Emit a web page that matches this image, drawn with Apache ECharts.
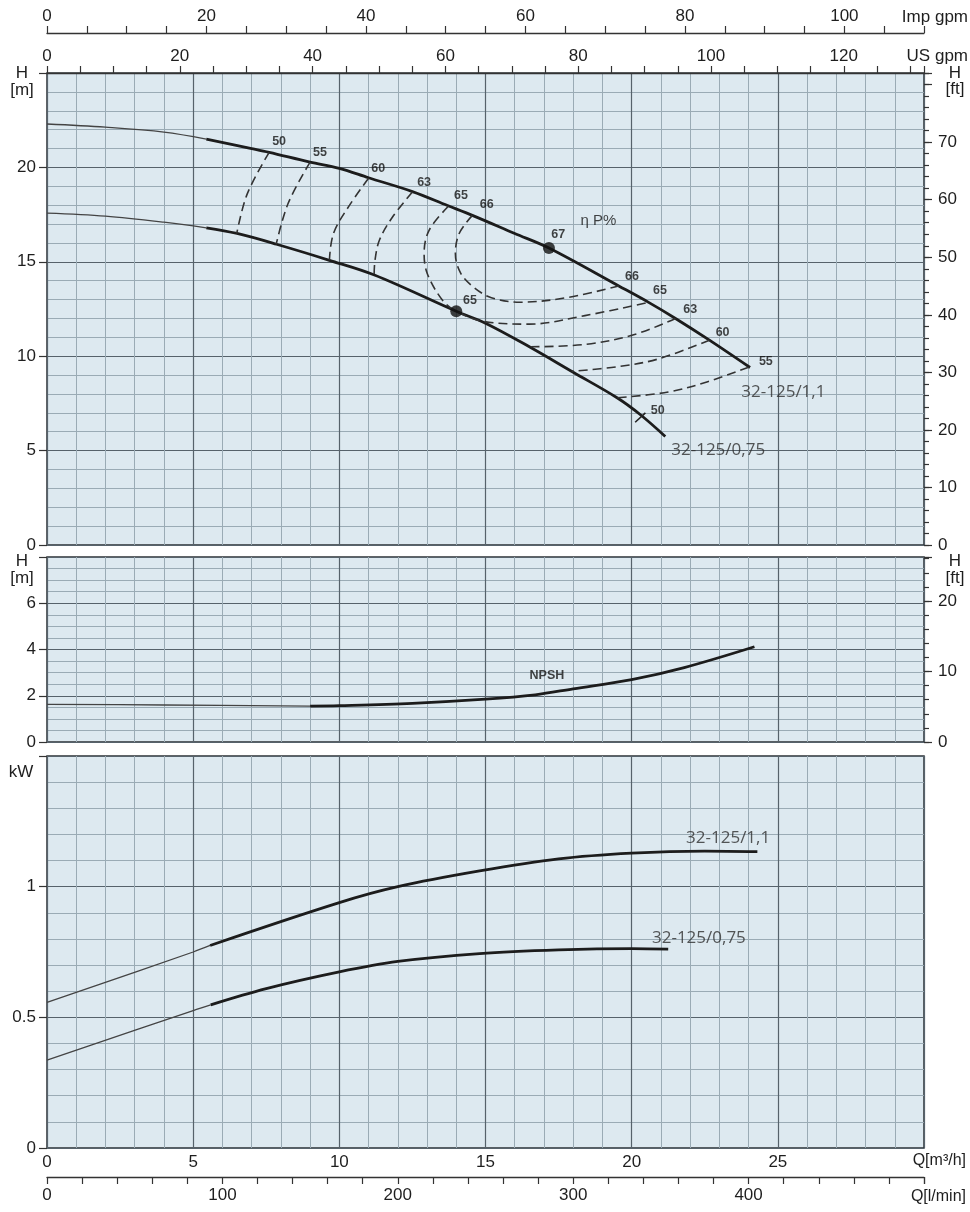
<!DOCTYPE html>
<html><head><meta charset="utf-8">
<script src="https://cdn.jsdelivr.net/npm/echarts/dist/echarts.min.js"></script>
<style>html,body{margin:0;padding:0;background:#fff}#c{width:970px;height:1212px}</style>
</head><body><div id="c"></div>
<script>
// ---------- DATA (Q in m3/h) ----------
const h11Thin = [[0,22.3],[2,22.13],[4,21.87],[5.45,21.5]];
const h11Thick = [[5.45,21.5],[7,21.0],[7.6,20.8],[9,20.28],[10,19.95],[11,19.45],[12.5,18.72],[13.7,17.98],[14.55,17.46],[16,16.5],[17.17,15.73],[19.56,13.72],[20.58,12.85],[21.5,12.0],[22.66,10.85],[24.05,9.4]];
const h075Thin = [[0,17.58],[2,17.42],[4,17.1],[5.45,16.8]];
const h075Thick = [[5.45,16.8],[6.5,16.5],[7.85,15.93],[9.66,15.08],[11.2,14.3],[14.0,12.38],[15,11.75],[16.5,10.5],[18,9.15],[19.5,7.8],[20.3,6.9],[21.15,5.75]];
const bep = [[17.17,15.73],[14.0,12.38]];

const eff50 = [[7.6,20.8],[6.85,18.6],[6.49,16.5]];
const eff55 = [[9.0,20.28],[8.25,18.1],[7.84,15.93]];
const eff60 = [[11.0,19.42],[10.35,18.0],[9.8,16.5],[9.66,15.08]];
const eff63 = [[12.5,18.7],[11.82,17.37],[11.37,16.14],[11.22,15.08],[11.19,14.29]];
const eff65 = [[13.73,17.94],[13.07,16.67],[12.9,15.43],[13.01,14.37],[13.53,12.96],[14.0,12.38],[14.9,11.85],[16.5,11.7],[18.4,12.15],[20.58,12.85]];
const eff66 = [[14.55,17.46],[14.1,16.5],[13.97,15.43],[14.15,14.4],[14.6,13.65],[15.2,13.1],[16.2,12.86],[17.85,13.12],[19.56,13.72]];
const eff63b = [[21.5,12.0],[20.1,11.15],[18.4,10.62],[16.5,10.5]];
const eff60b = [[22.66,10.85],[20.9,9.85],[19.55,9.45],[17.95,9.2]];
const eff55b = [[24.0,9.42],[22.6,8.65],[21.25,8.1],[19.5,7.8]];
const eff50tick = [[20.12,6.5],[20.47,7.0]];

const effLabels = [[7.94,21.36,'50'],[9.34,20.8,'55'],[11.33,19.95,'60'],[12.9,19.19,'63'],[14.16,18.49,'65'],[15.04,18.01,'66'],
  [17.49,16.46,'67'],[20.01,14.21,'66'],[20.97,13.47,'65'],[22.0,12.48,'63'],[23.11,11.24,'60'],[24.59,9.71,'55'],
  [14.47,12.94,'65'],[20.89,7.1,'50']];
const headNames = [[18.86,17.18,'η P%'],[25.19,8.12,'32-125/1,1'],[22.96,5.0,'32-125/0,75']];

const npshThin = [[0,1.63],[4,1.6],[9,1.55]];
const npshThick = [[9,1.55],[10,1.57],[12.5,1.67],[15,1.85],[16.7,2.04],[18,2.3],[20,2.7],[21.8,3.22],[24.2,4.12]];
const npshLabel = [[17.1,2.89,'NPSH']];

const p11Thin = [[0,0.557],[5,0.75],[5.58,0.775]];
const p11Thick = [[5.58,0.775],[10,0.939],[12,1.0],[14.8,1.06],[17.5,1.106],[20,1.128],[22.5,1.136],[24.3,1.134]];
const p075Thin = [[0,0.336],[5,0.526],[5.6,0.548]];
const p075Thick = [[5.6,0.548],[7.5,0.61],[10,0.674],[12,0.714],[14.8,0.744],[17.5,0.758],[20,0.763],[21.25,0.761]];
const powerNames = [[23.3,1.186,'32-125/1,1'],[22.3,0.804,'32-125/0,75']];

// axis ranges / conversion
const qMax = 30;
const usGpmPerM3h = 4.40287, impGpmPerM3h = 3.66615, lminPerM3h = 1000/60, ftPerM = 3.28084;

// ---------- STYLE ----------
const FONT = 'Liberation Sans, Arial, sans-serif';
const MAJOR = '#56626b', MINOR = '#9aabb5', BG = '#dde9f0', INK = '#1c1c1c';
const axLbl = (extra) => Object.assign({fontSize:17, color:'#1e1e1e', fontFamily:FONT}, extra||{});

function qAxis(gi, labels){
  return {type:'value', gridIndex:gi, min:0, max:qMax, interval:5, position:'bottom',
    axisLine:{show:false, onZero:false}, axisTick:{show:false},
    axisLabel: axLbl({show:labels, margin:6, formatter: v => v>=qMax ? '' : String(v)}),
    splitLine:{show:true, lineStyle:{color:MAJOR, width:1.2}},
    minorTick:{show:false, splitNumber:5},
    minorSplitLine:{show:true, lineStyle:{color:MINOR, width:1}}};
}
function topAxis(gi, max, offset){
  return {type:'value', gridIndex:gi, min:0, max:max, interval:5, position:'top', offset:offset,
    axisLine:{show:true, onZero:false, lineStyle:{color:'#333', width:1.3}},
    axisTick:{show:true, length:7, lineStyle:{color:'#333', width:1.2}},
    axisLabel: axLbl({margin:8, formatter: v => (Math.abs(v%20)<1e-6 && v < max-3) ? String(v) : ''}),
    splitLine:{show:false}};
}
function hAxis(gi, max, interval, minorSplit, hideTop){
  return {type:'value', gridIndex:gi, min:0, max:max, interval:interval, position:'left',
    axisLine:{show:false, onZero:false},
    axisTick:{show:true, length:8, lineStyle:{color:'#333', width:1.2}},
    axisLabel: axLbl({margin:11, formatter: v => (v >= max-1e-6 && hideTop) ? '' : String(v)}),
    splitLine:{show:true, lineStyle:{color:MAJOR, width:1.2}},
    minorTick:{show:false, splitNumber:minorSplit},
    minorSplitLine:{show:true, lineStyle:{color:MINOR, width:1}}};
}
function ftAxis(gi, max, interval, tickLen, labels){
  return {type:'value', gridIndex:gi, min:0, max:max, interval:interval, position:'right',
    axisLine:{show:false, onZero:false},
    axisTick:{show:true, length:tickLen, lineStyle:{color:'#333', width:1.2}},
    axisLabel: axLbl({show:labels, margin:14, formatter: v => (v > max-4) ? '' : String(v)}),
    splitLine:{show:false}};
}

const gridBase = {show:true, left:47, right:46, backgroundColor:BG, borderColor:'#2c3236', borderWidth:1.5, containLabel:false};

function line(data, xi, yi, width, color, dash){
  return {type:'line', xAxisIndex:xi, yAxisIndex:yi, data:data, smooth:0.35, showSymbol:false, symbol:'none', silent:true,
    lineStyle:{width:width, color:color, type: dash ? [9,5] : 'solid'}, z:5};
}
function labels(data, xi, yi, style){
  return {type:'scatter', xAxisIndex:xi, yAxisIndex:yi, data:data, symbolSize:1, silent:true,
    itemStyle:{color:'rgba(0,0,0,0)'}, encode:{x:0,y:1},
    label:Object.assign({show:true, position:'inside', textBorderWidth:0, formatter: p => p.data[2]}, style), z:10};
}
const effStyle = {fontSize:12.5, fontWeight:'bold', color:'#151515', fontFamily:FONT};
const nameStyle = {fontSize:17, color:'#2e2e2e', fontFamily:'Open Sans, Noto Sans, sans-serif'};

const series = [
  line(h11Thin,0,0,1.3,'#444'), line(h11Thick,0,0,2.8,INK),
  line(h075Thin,0,0,1.3,'#444'), line(h075Thick,0,0,2.8,INK),
  line(eff50,0,0,1.6,'#333',true), line(eff55,0,0,1.6,'#333',true), line(eff60,0,0,1.6,'#333',true),
  line(eff63,0,0,1.6,'#333',true), line(eff65,0,0,1.6,'#333',true), line(eff66,0,0,1.6,'#333',true),
  line(eff63b,0,0,1.6,'#333',true), line(eff60b,0,0,1.6,'#333',true), line(eff55b,0,0,1.6,'#333',true),
  line(eff50tick,0,0,1.6,'#222'),
  {type:'scatter', xAxisIndex:0, yAxisIndex:0, data:bep, symbolSize:12, itemStyle:{color:'#111'}, z:8, silent:true},
  labels(effLabels,0,0,effStyle),
  labels(headNames.slice(0,1),0,0,{fontSize:15, color:'#151515', fontFamily:FONT}),
  labels(headNames.slice(1),0,0,nameStyle),
  line(npshThin,1,3,1.3,'#444'), line(npshThick,1,3,2.8,INK),
  labels(npshLabel,1,3,effStyle),
  line(p11Thin,2,6,1.3,'#444'), line(p11Thick,2,6,2.8,INK),
  line(p075Thin,2,6,1.3,'#444'), line(p075Thick,2,6,2.8,INK),
  labels(powerNames,2,6,nameStyle)
];

function txt(x, y, t, align, size){
  return {type:'text', x:x, y:y, style:{text:t, x:0, y:0, textAlign:align||'center', textVerticalAlign:'middle',
    fontSize:size||17, fill:'#1e1e1e', fontFamily:FONT}, z:100};
}

const option = {
  animation:false,
  backgroundColor:'#fff',
  grid:[
    Object.assign({top:73, height:472}, gridBase),
    Object.assign({top:557, height:185}, gridBase),
    Object.assign({top:756, height:392}, gridBase)
  ],
  xAxis:[
    qAxis(0,false), qAxis(1,false), qAxis(2,true),
    topAxis(0, qMax*usGpmPerM3h, 0),
    topAxis(0, qMax*impGpmPerM3h, 40),
    {type:'value', gridIndex:2, min:0, max:qMax*lminPerM3h, interval:20, position:'bottom', offset:29,
      axisLine:{show:true, onZero:false, lineStyle:{color:'#333', width:1.3}},
      axisTick:{show:true, length:7, lineStyle:{color:'#333', width:1.2}},
      axisLabel: axLbl({margin:10, formatter: v => (v%100===0 && v<500) ? String(v) : ''}),
      splitLine:{show:false}}
  ],
  yAxis:[
    hAxis(0, 25, 5, 5, true),
    ftAxis(0, 25*ftPerM, 2, 5, false),
    ftAxis(0, 25*ftPerM, 10, 8, true),
    hAxis(1, 8, 2, 4, true),
    ftAxis(1, 8*ftPerM, 2, 5, false),
    ftAxis(1, 8*ftPerM, 10, 8, true),
    hAxis(2, 1.5, 0.5, 5, true)
  ],
  series: series,
  graphic:[
    txt(968,17,'Imp gpm','right',17), txt(968,56,'US gpm','right',17),
    txt(22,73,'H'), txt(22,90,'[m]'),
    txt(955,73,'H'), txt(955,89,'[ft]'),
    txt(22,561,'H'), txt(22,578,'[m]'),
    txt(955,561,'H'), txt(955,578,'[ft]'),
    txt(21,772,'kW'),
    txt(966,1161,'Q[m³/h]','right',16), txt(966,1197,'Q[l/min]','right',16)
  ]
};
const chart = echarts.init(document.getElementById('c'), null, {renderer:'canvas'});
chart.setOption(option);
</script></body></html>
